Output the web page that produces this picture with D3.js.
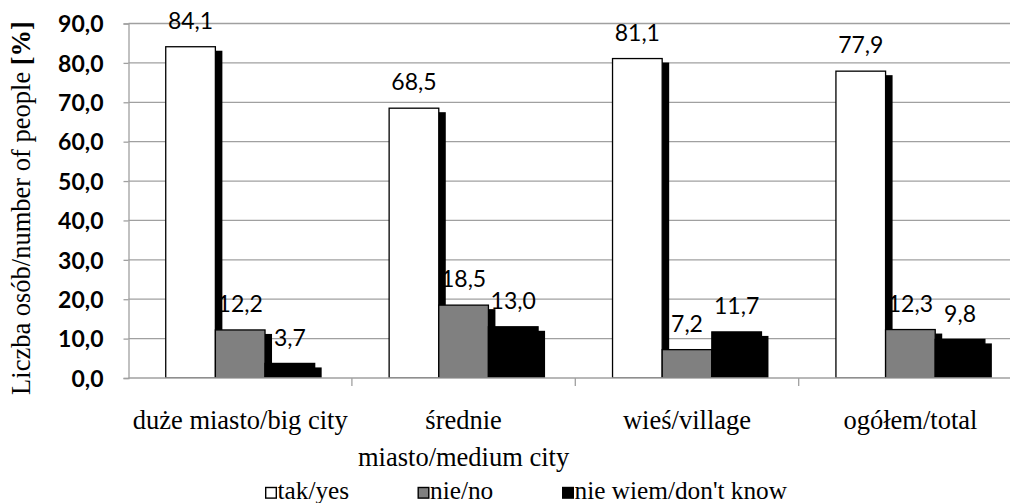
<!DOCTYPE html>
<html><head><meta charset="utf-8">
<script src="https://cdn.jsdelivr.net/npm/d3@7"></script>
<style>body{margin:0;background:#fff}svg{display:block}</style>
</head><body>
<svg id="c" width="1010" height="503"></svg>
<script>
const categories = [["duże miasto/big city"], ["średnie", "miasto/medium city"], ["wieś/village"], ["ogółem/total"]];
const seriesNames = ["tak/yes", "nie/no", "nie wiem/don't know"];
const yesValues = [84.1, 68.5, 81.1, 77.9];
const noValues = [12.2, 18.5, 7.2, 12.3];
const dkValues = [3.7, 13.0, 11.7, 9.8];
const yTicks = [0, 10, 20, 30, 40, 50, 60, 70, 80, 90];
const seriesColors = ["#ffffff", "#808080", "#000000"];

(function () {
const series = [yesValues, noValues, dkValues];
const svg = d3.select("#c");
const pLeft = 128.5, pTop = 23.5, pBottom = 378, step = 223.4;
const pRight = pLeft + step * 4;
const x = d3.scaleBand().domain(d3.range(4)).range([pLeft, pRight]).paddingInner(0).paddingOuter(0);
const bw = x.bandwidth() / 4.5;
const y = d3.scaleLinear().domain([0, 90]).range([pBottom, pTop]);
const fmt = v => v.toFixed(1).replace(".", ",");
const sans = "Lato, 'Open Sans', sans-serif";
const serif = "'Liberation Serif', 'Times New Roman', serif";

svg.append("defs").append("clipPath").attr("id", "pc")
  .append("rect").attr("x", pLeft).attr("y", 0).attr("width", pRight - pLeft).attr("height", pBottom);

// gridlines
svg.append("g").selectAll("line").data(yTicks.filter(t => t > 0)).join("line")
  .attr("x1", pLeft).attr("x2", pRight).attr("y1", d => y(d)).attr("y2", d => y(d))
  .attr("stroke", "#a0a0a0").attr("stroke-width", 1.3);

// y axis
const yAxis = d3.axisLeft(y).tickValues(yTicks).tickSize(5).tickFormat(fmt);
const ya = svg.append("g").attr("transform", `translate(${pLeft},0)`).call(yAxis);
ya.select(".domain").attr("stroke", "#a0a0a0").attr("stroke-width", 1.3);
ya.selectAll(".tick line").attr("stroke", "#a0a0a0").attr("stroke-width", 1.3);
ya.selectAll(".tick text").attr("x", -25).attr("font-family", sans).attr("font-weight", "bold")
  .attr("font-size", 23).attr("fill", "#000").attr("dy", "0.36em");

// bars
const gBars = svg.append("g").attr("clip-path", "url(#pc)");
series.forEach((vals, s) => {
  const g = gBars.append("g");
  vals.forEach((v, i) => {
    const bx = x(i) + bw * 0.75 + s * bw;
    g.append("rect").attr("x", bx + 7).attr("y", y(v) + 4).attr("width", bw).attr("height", pBottom - y(v) + 10)
      .attr("fill", "#000");
    g.append("rect").attr("x", bx).attr("y", y(v)).attr("width", bw).attr("height", pBottom - y(v))
      .attr("fill", seriesColors[s]).attr("stroke", "#000").attr("stroke-width", 1.3);
  });
});

// x axis
svg.append("line").attr("x1", pLeft).attr("x2", pRight).attr("y1", pBottom).attr("y2", pBottom)
  .attr("stroke", "#a0a0a0").attr("stroke-width", 1.3);
svg.append("g").selectAll("line").data(d3.range(1, 4)).join("line")
  .attr("x1", d => x(d)).attr("x2", d => x(d)).attr("y1", pBottom).attr("y2", pBottom + 8)
  .attr("stroke", "#a0a0a0").attr("stroke-width", 1.3);

// data labels
series.forEach((vals, s) => {
  svg.append("g").selectAll("text").data(vals).join("text")
    .attr("x", (d, i) => x(i) + bw * 0.75 + s * bw + bw / 2)
    .attr("y", d => y(d) - 26)
    .attr("dy", "0.36em")
    .attr("text-anchor", "middle").attr("font-family", sans).attr("font-size", 23).attr("fill", "#000")
    .text(fmt);
});

// category labels
categories.forEach((lines, i) => {
  const t = svg.append("text").attr("text-anchor", "middle").attr("font-family", serif)
    .attr("font-size", 26.5).attr("fill", "#000");
  lines.forEach((l, k) => {
    t.append("tspan").attr("x", x(i) + x.bandwidth() / 2).attr("y", 428.5 + k * 37).text(l);
  });
});

// y axis title
const title = svg.append("text").attr("transform", "translate(30,208) rotate(-90)")
  .attr("text-anchor", "middle").attr("font-family", serif).attr("font-size", 26.5).attr("fill", "#000");
title.append("tspan").text("Liczba osób/number of people ");
title.append("tspan").attr("font-weight", "bold").text("[%]");

// legend
const legX = [265, 417.5, 562];
seriesNames.forEach((n, s) => {
  svg.append("rect").attr("x", legX[s] + 0.7).attr("y", 487.5).attr("width", 10.6).attr("height", 10.6)
    .attr("fill", seriesColors[s]).attr("stroke", "#000").attr("stroke-width", 1.4);
  svg.append("text").attr("x", legX[s] + 12.5).attr("y", 499).attr("font-family", serif)
    .attr("font-size", 25.3).attr("fill", "#000").text(n);
});
})();
</script>
</body></html>
